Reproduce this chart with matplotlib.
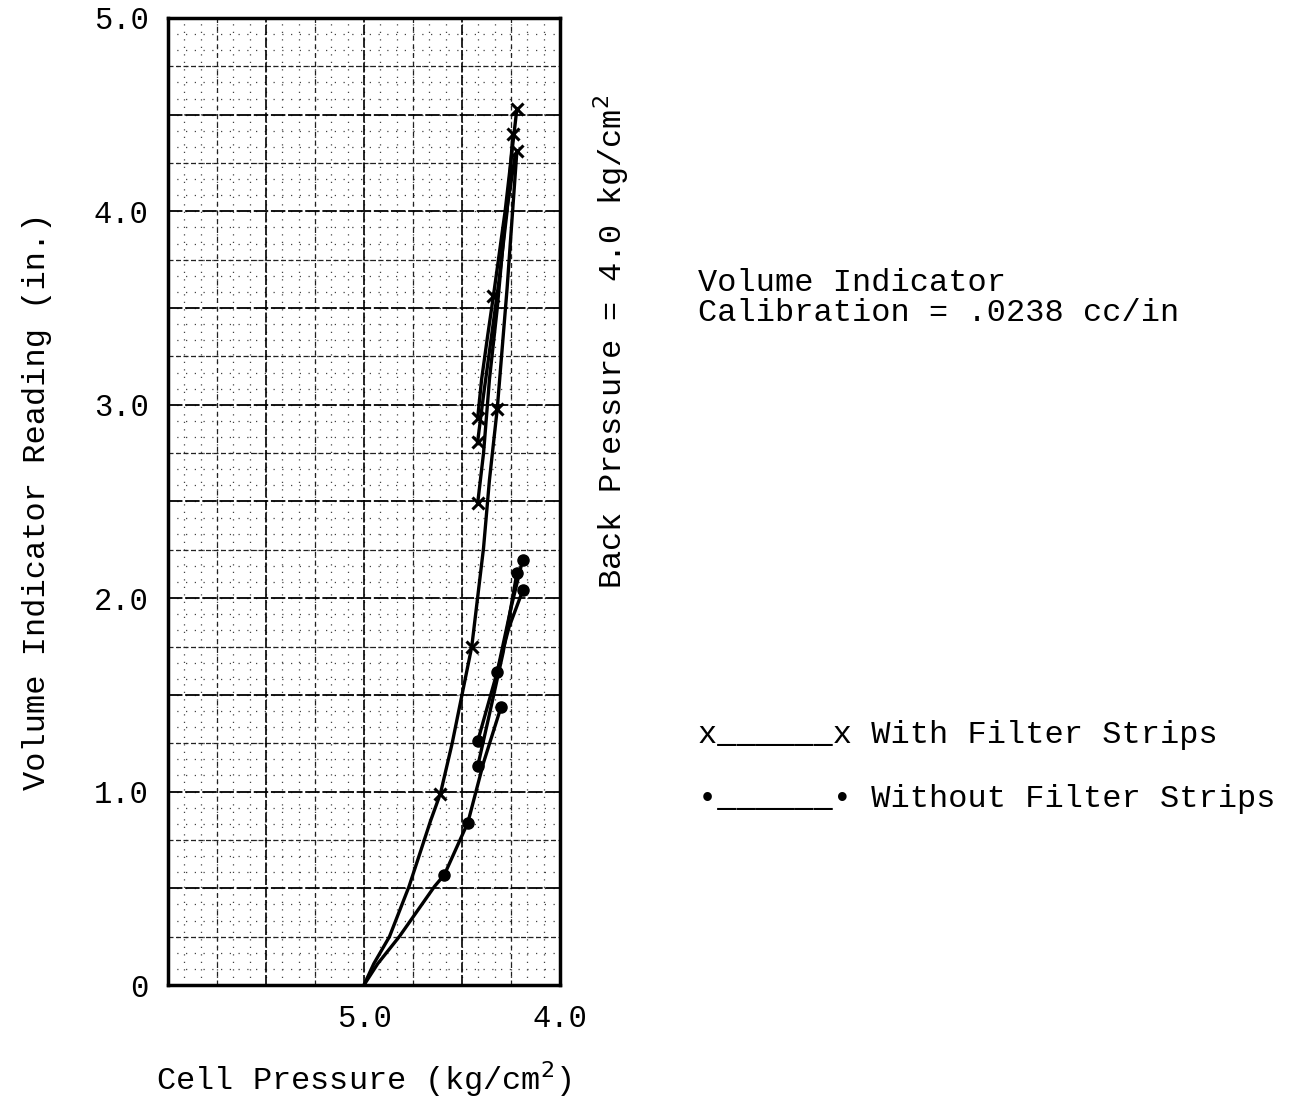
import matplotlib
matplotlib.use("Agg")
import matplotlib.pyplot as plt
import numpy as np

plt.rcParams['font.family'] = ['Liberation Mono', 'DejaVu Sans Mono']

# --- data (cell pressure kg/cm2, volume reading in.) ---
# with filter strips (x markers)
with_runs = [
    {"p": [5.00, 4.95, 4.87, 4.77, 4.66, 4.61, 4.55, 4.50, 4.45, 4.39, 4.36, 4.32, 4.27, 4.22],
     "v": [0.00, 0.11, 0.25, 0.51, 0.85, 0.99, 1.25, 1.50, 1.75, 2.26, 2.61, 2.98, 3.60, 4.31],
     "marks": [5, 8, 11, 13]},
    {"p": [4.42, 4.40, 4.37, 4.34, 4.28, 4.22],
     "v": [2.93, 3.13, 3.35, 3.56, 4.00, 4.53],
     "marks": [0, 3, 5]},
    {"p": [4.42, 4.39, 4.35, 4.31, 4.27, 4.24],
     "v": [2.81, 3.05, 3.35, 3.65, 4.00, 4.40],
     "marks": [0, 5]},
    {"p": [4.42, 4.39, 4.36, 4.32, 4.28, 4.23],
     "v": [2.49, 2.75, 3.13, 3.50, 3.95, 4.28],
     "marks": [0]},
]

# without filter strips (dots)
without_runs = [
    {"p": [5.00, 4.93, 4.82, 4.64, 4.59, 4.47, 4.39, 4.30],
     "v": [0.00, 0.11, 0.25, 0.51, 0.57, 0.84, 1.15, 1.44],
     "marks": [4, 5, 7]},
    {"p": [4.42, 4.32, 4.25, 4.19],
     "v": [1.26, 1.62, 1.95, 2.20],
     "marks": [0, 1, 3]},
    {"p": [4.42, 4.36, 4.29, 4.22],
     "v": [1.13, 1.40, 1.72, 2.13],
     "marks": [0, 3]},
    {"p": [4.32, 4.26, 4.19],
     "v": [1.62, 1.85, 2.04],
     "marks": [2]},
]

x_ticks = [5.0, 4.0]
x_ticklabels = ["5.0", "4.0"]
y_ticks = [0, 1, 2, 3, 4, 5]
y_ticklabels = ["0", "1.0", "2.0", "3.0", "4.0", "5.0"]

fig = plt.figure(figsize=(12.9, 10.99), dpi=100)
ax = fig.add_axes([0.1302, 0.1037, 0.3039, 0.880])
ax.set_xlim(6.0, 4.0)
ax.set_ylim(0, 5.0)

# graph paper grid
for x in np.arange(4.0, 6.001, 0.25 / 3):
    ax.axvline(x, color='#444444', lw=0.9, ls=(0, (1, 5)), zorder=0)
for y in np.arange(0, 5.001, 0.25 / 3):
    ax.axhline(y, color='#444444', lw=0.9, ls=(0, (1, 6)), zorder=0)
for x in np.arange(4.25, 6.0, 0.5):
    ax.axvline(x, color='#222222', lw=0.9, ls=(0, (4, 3)), zorder=0)
for y in np.arange(0.25, 5.0, 0.5):
    ax.axhline(y, color='#222222', lw=0.9, ls=(0, (4, 2)), zorder=0)
for x in np.arange(4.5, 6.0, 0.5):
    ax.axvline(x, color='black', lw=1.2, ls=(0, (6, 1.5)), zorder=0)
for y in np.arange(0.5, 5.0, 0.5):
    ax.axhline(y, color='black', lw=1.3, ls=(0, (8, 1.5)), zorder=0)

for run in with_runs:
    ax.plot(run["p"], run["v"], color='black', lw=2.4, zorder=3)
    ax.plot([run["p"][i] for i in run["marks"]], [run["v"][i] for i in run["marks"]],
            ls='none', marker='x', ms=9, mew=2.2, color='black', zorder=4)

for run in without_runs:
    ax.plot(run["p"], run["v"], color='black', lw=2.4, zorder=3)
    ax.plot([run["p"][i] for i in run["marks"]], [run["v"][i] for i in run["marks"]],
            ls='none', marker='o', ms=8, color='black', zorder=4)

for s in ax.spines.values():
    s.set_linewidth(2.5)

ax.set_xticks(x_ticks)
ax.set_xticklabels(x_ticklabels, fontsize=22)
ax.set_yticks(y_ticks)
ax.set_yticklabels(y_ticklabels, fontsize=22)
ax.tick_params(length=0, pad=14)

ax.set_xlabel("Cell Pressure (kg/cm$^2$)", fontsize=23, labelpad=18)
ax.set_ylabel("Volume Indicator Reading (in.)", fontsize=23, labelpad=30)

fig.text(0.474, 0.689, "Back Pressure = 4.0 kg/cm$^2$", rotation=90,
         fontsize=23, ha='center', va='center')
fig.text(0.541, 0.729, "Volume Indicator\nCalibration = .0238 cc/in",
         fontsize=23, ha='left', va='center', linespacing=1.0)
fig.text(0.541, 0.331, "x______x With Filter Strips", fontsize=23, ha='left', va='center')
fig.text(0.541, 0.273, "\u2022______\u2022 Without Filter Strips", fontsize=23, ha='left', va='center')

fig.savefig("out.png", dpi=100)
